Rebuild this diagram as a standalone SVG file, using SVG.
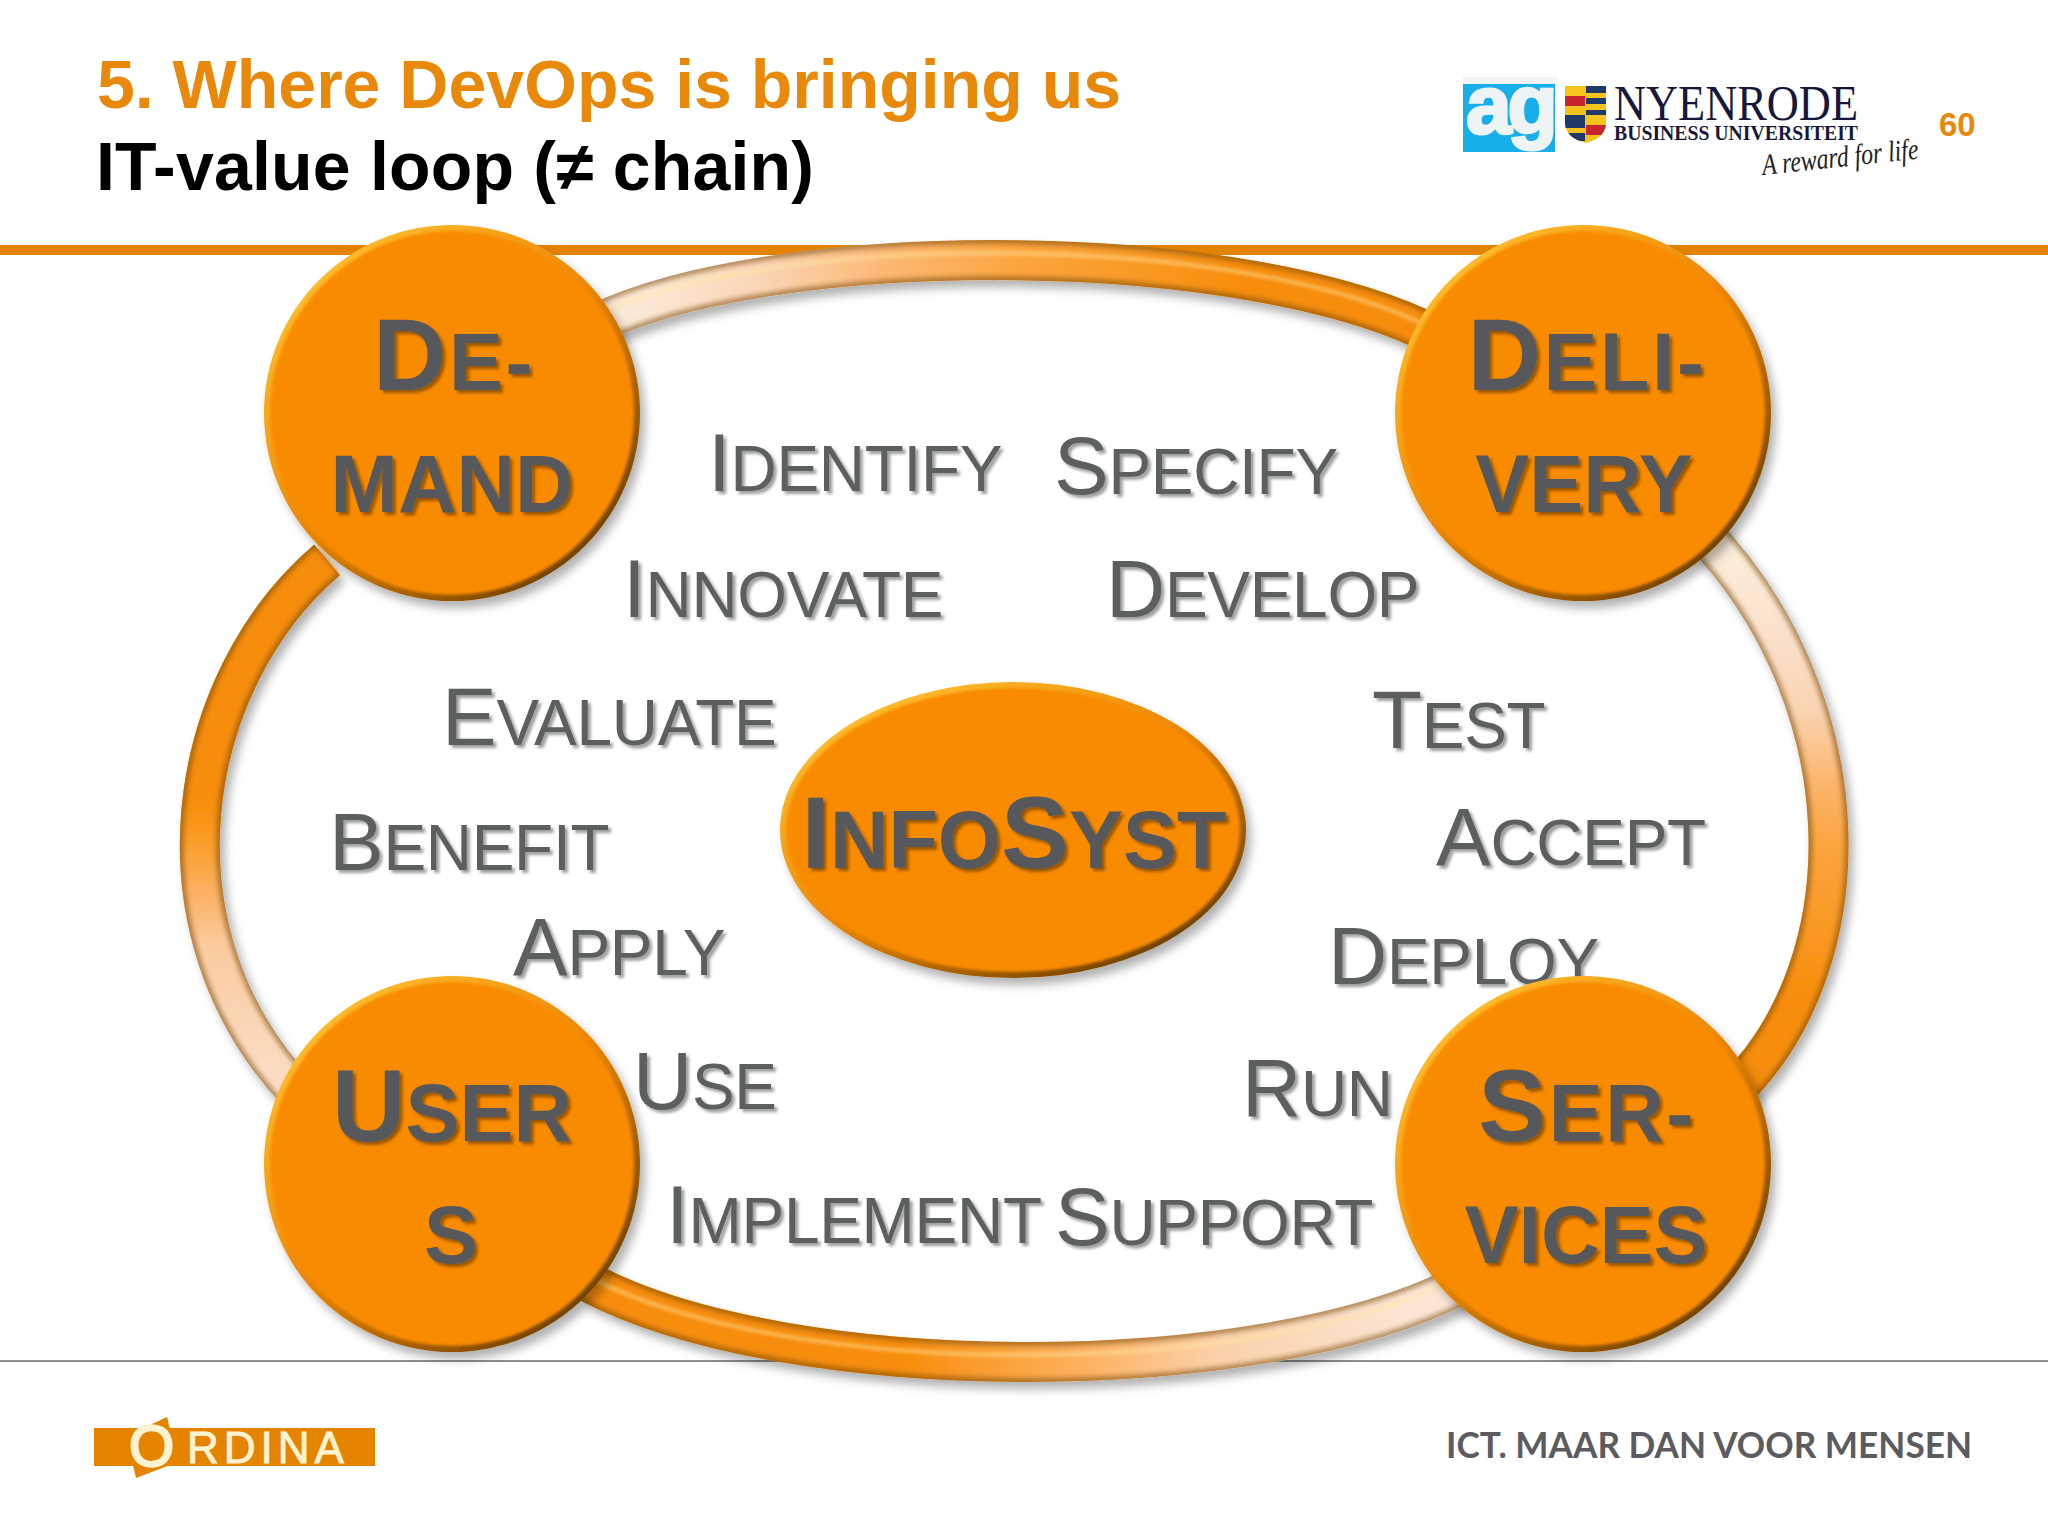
<svg xmlns="http://www.w3.org/2000/svg" width="2048" height="1536" viewBox="0 0 2048 1536">
<style>
text{font-family:"Liberation Sans",Arial,sans-serif}
.title{font-size:68px;font-weight:700}
.lab{font-size:64px;fill:#5c5e60;letter-spacing:-.3px}
.lab .b{font-size:82px}
.node{font-size:81px;font-weight:700;fill:#56595c;text-anchor:middle}
.node .b{font-size:102px}
.wide{letter-spacing:2.5px}
.edge{fill:url(#bevel)}
.face{fill:#f98b06}
.tube{fill:none;stroke-linecap:butt}
</style>
<defs>
<linearGradient id="bevel" x1="0.15" y1="0.1" x2="0.85" y2="0.9">
<stop offset="0" stop-color="#ffbe2e"/><stop offset="0.5" stop-color="#ea8505"/><stop offset="1" stop-color="#6d4000"/>
</linearGradient>
<filter id="nodeShadow" x="-15%" y="-15%" width="135%" height="135%"><feDropShadow dx="5" dy="7" stdDeviation="5" flood-color="#000" flood-opacity=".3"/></filter>
<filter id="soft" x="-5%" y="-5%" width="110%" height="110%"><feGaussianBlur stdDeviation="1.8"/></filter>
<filter id="softTube" x="-10%" y="-10%" width="120%" height="120%"><feGaussianBlur stdDeviation="2.4"/></filter>
<filter id="tubeShadow" x="-10%" y="-10%" width="125%" height="125%"><feDropShadow dx="5" dy="7" stdDeviation="5" flood-color="#000" flood-opacity=".3"/></filter>
<filter id="textShadow" x="-5%" y="-10%" width="112%" height="125%"><feDropShadow dx="3" dy="3" stdDeviation="1.6" flood-color="#000" flood-opacity=".38"/></filter>
<linearGradient id="gTop" gradientUnits="userSpaceOnUse" x1="640" y1="0" x2="1250" y2="0"><stop offset="0" stop-color="#fbe8d6"/><stop offset="0.2" stop-color="#fbd5b5"/><stop offset="0.4" stop-color="#fcb873"/><stop offset="0.62" stop-color="#fca53f"/><stop offset="1" stop-color="#f78d0a"/></linearGradient>
<linearGradient id="gLeft" gradientUnits="userSpaceOnUse" x1="0" y1="800" x2="0" y2="1070"><stop offset="0" stop-color="#f78d0a"/><stop offset="0.13" stop-color="#fa9a22"/><stop offset="0.34" stop-color="#fcb062"/><stop offset="0.54" stop-color="#fbcb9f"/><stop offset="1" stop-color="#fbdcc2"/></linearGradient>
<linearGradient id="gBottom" gradientUnits="userSpaceOnUse" x1="900" y1="0" x2="1420" y2="0"><stop offset="0" stop-color="#f78d0a"/><stop offset="0.38" stop-color="#fdb467"/><stop offset="0.6" stop-color="#fbd0a8"/><stop offset="1" stop-color="#fbe6d6"/></linearGradient>
<linearGradient id="gRight" gradientUnits="userSpaceOnUse" x1="0" y1="1000" x2="0" y2="560"><stop offset="0" stop-color="#f78d0a"/><stop offset="0.35" stop-color="#fca53f"/><stop offset="0.48" stop-color="#fbb368"/><stop offset="0.66" stop-color="#fbd4b2"/><stop offset="0.83" stop-color="#fae0cc"/><stop offset="1" stop-color="#fbecd8"/></linearGradient>
<path id="arcTop" d="M600 322C780 237 1250 237 1440 338"/>
<path id="arcLeft" d="M327 560C186 680 142 930 300 1095"/>
<path id="arcBottom" d="M590 1283C790 1388 1260 1388 1460 1285"/>
<path id="arcRight" d="M1700 530C1864 700 1866 960 1735 1090"/>
<clipPath id="shieldClip"><path d="M1565 86H1606V124Q1605 138 1586 143Q1566 138 1565 124Z"/></clipPath>
</defs>
<rect width="2048" height="1536" fill="#fff"/>
<g id="header">
<text class="title" x="97" y="108" fill="#e8890c">5. Where DevOps is bringing us</text>
<text class="title" x="96" y="190" fill="#000" letter-spacing=".2">IT-value loop (≠ chain)</text>
<rect x="0" y="245" width="2048" height="10" fill="#e48300"/>
<rect x="0" y="1360" width="2048" height="2" fill="#8f8f8f"/>
<text x="1939" y="136" font-size="33" font-weight="700" fill="#e8890c">60</text>
</g>
<g id="logo-ag">
<rect x="1463" y="77" width="94" height="8" fill="#f1f3f4"/>
<rect x="1463" y="84" width="92" height="68" fill="#18aeea"/>
<text x="1466" y="133" font-size="82" font-weight="700" fill="#eef3f6" stroke="#eef3f6" stroke-width="3" letter-spacing="-4">ag</text>
</g>
<g id="logo-nyenrode">
<g clip-path="url(#shieldClip)">
<rect x="1565" y="86" width="41" height="58" fill="#f5c41c"/>
<rect x="1565" y="96" width="20" height="10" fill="#c8242c"/>
<rect x="1565" y="115" width="20" height="13" fill="#1f3a68"/>
<rect x="1565" y="133" width="20" height="8" fill="#1f3a68"/>
<rect x="1586" y="86" width="20" height="7" fill="#1f3a68"/>
<rect x="1586" y="98" width="20" height="6" fill="#1f3a68"/>
<rect x="1586" y="110" width="20" height="5" fill="#1f3a68"/>
<rect x="1586" y="125" width="20" height="10" fill="#c8242c"/>
</g>
<text x="1614" y="120" font-size="50" textLength="244" lengthAdjust="spacingAndGlyphs" fill="#17173c" style="font-family:'Liberation Serif',serif">NYENRODE</text>
<text x="1614" y="140" font-size="20" font-weight="700" textLength="244" lengthAdjust="spacingAndGlyphs" fill="#17173c" style="font-family:'Liberation Serif',serif">BUSINESS UNIVERSITEIT</text>
<text transform="translate(1763 175) rotate(-6)" font-size="30" font-style="italic" textLength="157" lengthAdjust="spacingAndGlyphs" fill="#222" style="font-family:'Liberation Serif',serif">A reward for life</text>
</g>
<g id="connectors">
<g class="tube" stroke-width="40" filter="url(#tubeShadow)">
<use href="#arcTop" stroke="url(#gTop)"/><use href="#arcLeft" stroke="url(#gLeft)"/><use href="#arcBottom" stroke="url(#gBottom)"/><use href="#arcRight" stroke="url(#gRight)"/>
</g>
<g class="tube" stroke="#7a4a0a" stroke-opacity=".55" stroke-width="40">
<use href="#arcTop"/><use href="#arcLeft"/><use href="#arcBottom"/><use href="#arcRight"/>
</g>
<g class="tube" stroke-width="32" filter="url(#softTube)">
<use href="#arcTop" stroke="url(#gTop)"/><use href="#arcLeft" stroke="url(#gLeft)"/><use href="#arcBottom" stroke="url(#gBottom)"/><use href="#arcRight" stroke="url(#gRight)"/>
</g>
<g class="tube" stroke="#ffe9a0" stroke-opacity=".4" stroke-width="5" filter="url(#soft)" transform="translate(-3 -7)">
<use href="#arcTop"/><use href="#arcBottom"/>
</g>
</g>
<g id="labels" filter="url(#textShadow)">
<text class="lab" x="708" y="491"><tspan class="b">I</tspan>DENTIFY</text>
<text class="lab" x="1054" y="494"><tspan class="b">S</tspan>PECIFY</text>
<text class="lab" x="623" y="617"><tspan class="b">I</tspan>NNOVATE</text>
<text class="lab" x="1106" y="617"><tspan class="b">D</tspan>EVELOP</text>
<text class="lab" x="442" y="745"><tspan class="b">E</tspan>VALUATE</text>
<text class="lab" x="1372" y="748"><tspan class="b">T</tspan>EST</text>
<text class="lab" x="329" y="870"><tspan class="b">B</tspan>ENEFIT</text>
<text class="lab" x="1436" y="865"><tspan class="b">A</tspan>CCEPT</text>
<text class="lab" x="513" y="975"><tspan class="b">A</tspan>PPLY</text>
<text class="lab" x="1328" y="984"><tspan class="b">D</tspan>EPLOY</text>
<text class="lab" x="633" y="1109"><tspan class="b">U</tspan>SE</text>
<text class="lab" x="1242" y="1116"><tspan class="b">R</tspan>UN</text>
<text class="lab" x="666" y="1243"><tspan class="b">I</tspan>MPLEMENT</text>
<text class="lab" x="1055" y="1245"><tspan class="b">S</tspan>UPPORT</text>
</g>
<g id="node-demand">
<circle class="edge" cx="452" cy="413" r="188" filter="url(#nodeShadow)"/>
<circle class="face" cx="452" cy="413" r="182" filter="url(#soft)"/>
<text class="node wide" x="454" y="390" filter="url(#textShadow)"><tspan class="b">D</tspan>E-</text>
<text class="node" x="452" y="512" filter="url(#textShadow)">MAND</text>
</g>
<g id="node-delivery">
<circle class="edge" cx="1583" cy="413" r="188" filter="url(#nodeShadow)"/>
<circle class="face" cx="1583" cy="413" r="182" filter="url(#soft)"/>
<text class="node wide" x="1587" y="390" filter="url(#textShadow)"><tspan class="b">D</tspan>ELI-</text>
<text class="node" x="1584" y="512" filter="url(#textShadow)">VERY</text>
</g>
<g id="node-users">
<circle class="edge" cx="452" cy="1164" r="188" filter="url(#nodeShadow)"/>
<circle class="face" cx="452" cy="1164" r="182" filter="url(#soft)"/>
<text class="node" x="452" y="1141" filter="url(#textShadow)"><tspan class="b">U</tspan>SER</text>
<text class="node" x="451" y="1263" filter="url(#textShadow)">S</text>
</g>
<g id="node-services">
<circle class="edge" cx="1583" cy="1164" r="188" filter="url(#nodeShadow)"/>
<circle class="face" cx="1583" cy="1164" r="182" filter="url(#soft)"/>
<text class="node wide" x="1587" y="1141" filter="url(#textShadow)"><tspan class="b">S</tspan>ER-</text>
<text class="node" x="1586" y="1263" filter="url(#textShadow)">VICES</text>
</g>
<g id="node-infosyst">
<ellipse class="edge" cx="1013" cy="830" rx="233" ry="148" filter="url(#nodeShadow)"/>
<ellipse class="face" cx="1013" cy="830" rx="227" ry="142" filter="url(#soft)"/>
<text class="node" x="1014" y="868" filter="url(#textShadow)"><tspan class="b">I</tspan>NFO<tspan class="b">S</tspan>YST</text>
</g>
<g id="logo-ordina">
<rect x="94" y="1428" width="281" height="38" fill="#e48400"/>
<polygon points="167,1417 178,1462 136,1478 126,1436" fill="#e48400"/>
<text y="1466" fill="#fdf3d0" stroke="#fdf3d0"><tspan x="129" font-size="58" stroke-width="2.5">O</tspan><tspan x="187" dy="-3" font-size="44" letter-spacing="5" stroke-width="1">RDINA</tspan></text>
</g>
<g id="tagline">
<text x="1446" y="1458" font-size="36" font-weight="700" textLength="526" lengthAdjust="spacingAndGlyphs" fill="#5b5b60" style="font-family:Lato,'Liberation Sans',sans-serif">ICT. MAAR DAN VOOR MENSEN</text>
</g>
</svg>
